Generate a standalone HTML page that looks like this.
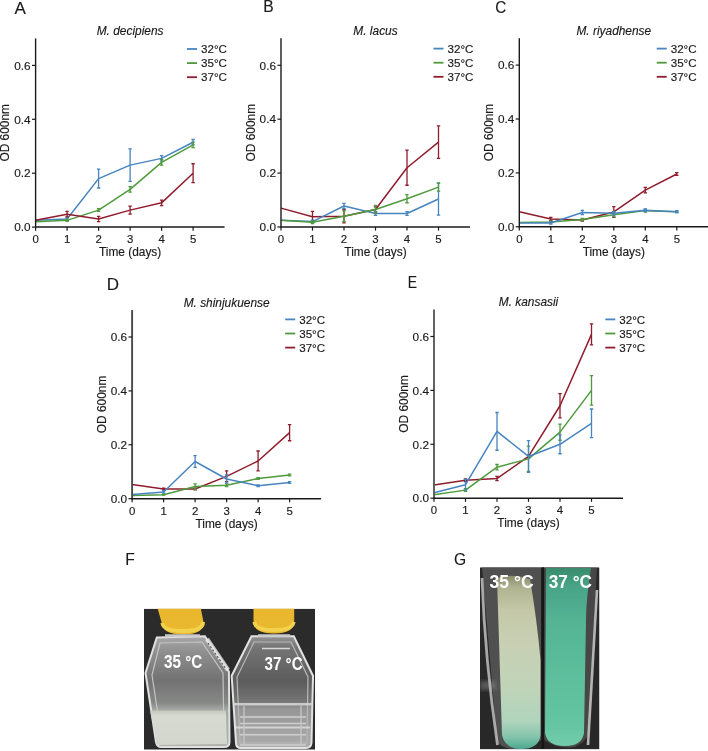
<!DOCTYPE html>
<html><head><meta charset="utf-8"><style>
html,body{margin:0;padding:0;background:#fff;}
body{width:708px;height:751px;position:relative;overflow:hidden;}
svg{position:absolute;left:0;top:0;will-change:transform;font-family:"Liberation Sans",sans-serif;font-size:11.4px;fill:#1a1a1a;}
.ct text{stroke:#1a1a1a;stroke-width:0.15px;}
</style></head><body>
<svg width="708" height="751" viewBox="0 0 708 751">
<g class="ct"><path d="M35.60,220.36 L67.10,219.01 L98.60,178.59 L130.10,165.12 L161.60,158.38 L193.10,142.21" fill="none" stroke="#4785c0" stroke-width="1.5" stroke-linejoin="round"/>
<path d="M67.10,217.67V220.36M65.40,217.67h3.4M65.40,220.36h3.4" stroke="#4785c0" stroke-width="1.3" fill="none"/>
<path d="M98.60,169.16V188.02M96.90,169.16h3.4M96.90,188.02h3.4" stroke="#4785c0" stroke-width="1.3" fill="none"/>
<path d="M130.10,148.94V181.28M128.40,148.94h3.4M128.40,181.28h3.4" stroke="#4785c0" stroke-width="1.3" fill="none"/>
<path d="M161.60,155.68V161.07M159.90,155.68h3.4M159.90,161.07h3.4" stroke="#4785c0" stroke-width="1.3" fill="none"/>
<path d="M193.10,139.51V144.90M191.40,139.51h3.4M191.40,144.90h3.4" stroke="#4785c0" stroke-width="1.3" fill="none"/>
<path d="M35.60,221.71 L67.10,220.36 L98.60,210.12 L130.10,189.37 L161.60,162.42 L193.10,144.90" fill="none" stroke="#4e9a3c" stroke-width="1.5" stroke-linejoin="round"/>
<path d="M67.10,219.28V221.44M65.40,219.28h3.4M65.40,221.44h3.4" stroke="#4e9a3c" stroke-width="1.3" fill="none"/>
<path d="M98.60,208.77V211.47M96.90,208.77h3.4M96.90,211.47h3.4" stroke="#4e9a3c" stroke-width="1.3" fill="none"/>
<path d="M130.10,186.67V192.06M128.40,186.67h3.4M128.40,192.06h3.4" stroke="#4e9a3c" stroke-width="1.3" fill="none"/>
<path d="M161.60,159.72V165.12M159.90,159.72h3.4M159.90,165.12h3.4" stroke="#4e9a3c" stroke-width="1.3" fill="none"/>
<path d="M193.10,142.21V147.60M191.40,142.21h3.4M191.40,147.60h3.4" stroke="#4e9a3c" stroke-width="1.3" fill="none"/>
<path d="M35.60,220.36 L67.10,214.16 L98.60,219.01 L130.10,210.12 L161.60,202.84 L193.10,173.20" fill="none" stroke="#8f1d2c" stroke-width="1.5" stroke-linejoin="round"/>
<path d="M67.10,211.47V216.86M65.40,211.47h3.4M65.40,216.86h3.4" stroke="#8f1d2c" stroke-width="1.3" fill="none"/>
<path d="M98.60,216.32V221.71M96.90,216.32h3.4M96.90,221.71h3.4" stroke="#8f1d2c" stroke-width="1.3" fill="none"/>
<path d="M130.10,206.08V214.16M128.40,206.08h3.4M128.40,214.16h3.4" stroke="#8f1d2c" stroke-width="1.3" fill="none"/>
<path d="M161.60,200.15V205.54M159.90,200.15h3.4M159.90,205.54h3.4" stroke="#8f1d2c" stroke-width="1.3" fill="none"/>
<path d="M193.10,163.77V182.63M191.40,163.77h3.4M191.40,182.63h3.4" stroke="#8f1d2c" stroke-width="1.3" fill="none"/>
<path d="M35.60,38.45V227.10" fill="none" stroke="#1a1a1a" stroke-width="1.4"/>
<path d="M34.90,227.10H224.60" fill="none" stroke="#1a1a1a" stroke-width="1.5"/>
<path d="M32.00,227.10H35.60" stroke="#1a1a1a" stroke-width="1.2"/>
<text x="30.60" y="231.30" text-anchor="end" font-size="11.8">0.0</text>
<path d="M32.00,173.20H35.60" stroke="#1a1a1a" stroke-width="1.2"/>
<text x="30.60" y="177.40" text-anchor="end" font-size="11.8">0.2</text>
<path d="M32.00,119.30H35.60" stroke="#1a1a1a" stroke-width="1.2"/>
<text x="30.60" y="123.50" text-anchor="end" font-size="11.8">0.4</text>
<path d="M32.00,65.40H35.60" stroke="#1a1a1a" stroke-width="1.2"/>
<text x="30.60" y="69.60" text-anchor="end" font-size="11.8">0.6</text>
<path d="M35.60,227.10V230.70" stroke="#1a1a1a" stroke-width="1.2"/>
<text x="35.60" y="243.30" text-anchor="middle">0</text>
<path d="M67.10,227.10V230.70" stroke="#1a1a1a" stroke-width="1.2"/>
<text x="67.10" y="243.30" text-anchor="middle">1</text>
<path d="M98.60,227.10V230.70" stroke="#1a1a1a" stroke-width="1.2"/>
<text x="98.60" y="243.30" text-anchor="middle">2</text>
<path d="M130.10,227.10V230.70" stroke="#1a1a1a" stroke-width="1.2"/>
<text x="130.10" y="243.30" text-anchor="middle">3</text>
<path d="M161.60,227.10V230.70" stroke="#1a1a1a" stroke-width="1.2"/>
<text x="161.60" y="243.30" text-anchor="middle">4</text>
<path d="M193.10,227.10V230.70" stroke="#1a1a1a" stroke-width="1.2"/>
<text x="193.10" y="243.30" text-anchor="middle">5</text>
<text x="130.10" y="256.10" text-anchor="middle" font-size="11.9">Time (days)</text>
<text transform="translate(9.10,132.78) rotate(-90)" text-anchor="middle" font-size="11.9">OD 600nm</text>
<text x="130.10" y="34.90" text-anchor="middle" font-style="italic" font-size="11.9">M. decipiens</text>
<path d="M187.00,49.00h10" stroke="#4785c0" stroke-width="1.8"/>
<text x="201.00" y="53.10" font-size="11.6">32°C</text>
<path d="M187.00,63.10h10" stroke="#4e9a3c" stroke-width="1.8"/>
<text x="201.00" y="67.20" font-size="11.6">35°C</text>
<path d="M187.00,77.20h10" stroke="#8f1d2c" stroke-width="1.8"/>
<text x="201.00" y="81.30" font-size="11.6">37°C</text><path d="M281.00,208.13 L312.50,216.76 L344.00,216.22 L375.50,209.48 L407.00,167.71 L438.50,142.11" fill="none" stroke="#8f1d2c" stroke-width="1.5" stroke-linejoin="round"/>
<path d="M312.50,211.37V222.15M310.80,211.37h3.4M310.80,222.15h3.4" stroke="#8f1d2c" stroke-width="1.3" fill="none"/>
<path d="M344.00,209.48V222.96M342.30,209.48h3.4M342.30,222.96h3.4" stroke="#8f1d2c" stroke-width="1.3" fill="none"/>
<path d="M375.50,206.79V212.18M373.80,206.79h3.4M373.80,212.18h3.4" stroke="#8f1d2c" stroke-width="1.3" fill="none"/>
<path d="M407.00,150.19V185.23M405.30,150.19h3.4M405.30,185.23h3.4" stroke="#8f1d2c" stroke-width="1.3" fill="none"/>
<path d="M438.50,125.94V158.28M436.80,125.94h3.4M436.80,158.28h3.4" stroke="#8f1d2c" stroke-width="1.3" fill="none"/>
<path d="M281.00,220.26 L312.50,221.61 L344.00,205.98 L375.50,213.53 L407.00,213.53 L438.50,198.97" fill="none" stroke="#4785c0" stroke-width="1.5" stroke-linejoin="round"/>
<path d="M312.50,220.26V222.96M310.80,220.26h3.4M310.80,222.96h3.4" stroke="#4785c0" stroke-width="1.3" fill="none"/>
<path d="M344.00,203.28V208.67M342.30,203.28h3.4M342.30,208.67h3.4" stroke="#4785c0" stroke-width="1.3" fill="none"/>
<path d="M375.50,211.64V215.41M373.80,211.64h3.4M373.80,215.41h3.4" stroke="#4785c0" stroke-width="1.3" fill="none"/>
<path d="M407.00,211.64V215.41M405.30,211.64h3.4M405.30,215.41h3.4" stroke="#4785c0" stroke-width="1.3" fill="none"/>
<path d="M438.50,182.80V215.14M436.80,182.80h3.4M436.80,215.14h3.4" stroke="#4785c0" stroke-width="1.3" fill="none"/>
<path d="M281.00,220.26 L312.50,222.15 L344.00,216.22 L375.50,209.48 L407.00,198.70 L438.50,187.11" fill="none" stroke="#4e9a3c" stroke-width="1.5" stroke-linejoin="round"/>
<path d="M312.50,220.80V223.50M310.80,220.80h3.4M310.80,223.50h3.4" stroke="#4e9a3c" stroke-width="1.3" fill="none"/>
<path d="M344.00,210.83V221.61M342.30,210.83h3.4M342.30,221.61h3.4" stroke="#4e9a3c" stroke-width="1.3" fill="none"/>
<path d="M375.50,205.44V213.53M373.80,205.44h3.4M373.80,213.53h3.4" stroke="#4e9a3c" stroke-width="1.3" fill="none"/>
<path d="M407.00,194.66V202.75M405.30,194.66h3.4M405.30,202.75h3.4" stroke="#4e9a3c" stroke-width="1.3" fill="none"/>
<path d="M438.50,183.07V191.16M436.80,183.07h3.4M436.80,191.16h3.4" stroke="#4e9a3c" stroke-width="1.3" fill="none"/>
<path d="M281.00,38.35V227.00" fill="none" stroke="#1a1a1a" stroke-width="1.4"/>
<path d="M280.30,227.00H470.00" fill="none" stroke="#1a1a1a" stroke-width="1.5"/>
<path d="M277.40,227.00H281.00" stroke="#1a1a1a" stroke-width="1.2"/>
<text x="276.00" y="231.20" text-anchor="end" font-size="11.8">0.0</text>
<path d="M277.40,173.10H281.00" stroke="#1a1a1a" stroke-width="1.2"/>
<text x="276.00" y="177.30" text-anchor="end" font-size="11.8">0.2</text>
<path d="M277.40,119.20H281.00" stroke="#1a1a1a" stroke-width="1.2"/>
<text x="276.00" y="123.40" text-anchor="end" font-size="11.8">0.4</text>
<path d="M277.40,65.30H281.00" stroke="#1a1a1a" stroke-width="1.2"/>
<text x="276.00" y="69.50" text-anchor="end" font-size="11.8">0.6</text>
<path d="M281.00,227.00V230.60" stroke="#1a1a1a" stroke-width="1.2"/>
<text x="281.00" y="243.20" text-anchor="middle">0</text>
<path d="M312.50,227.00V230.60" stroke="#1a1a1a" stroke-width="1.2"/>
<text x="312.50" y="243.20" text-anchor="middle">1</text>
<path d="M344.00,227.00V230.60" stroke="#1a1a1a" stroke-width="1.2"/>
<text x="344.00" y="243.20" text-anchor="middle">2</text>
<path d="M375.50,227.00V230.60" stroke="#1a1a1a" stroke-width="1.2"/>
<text x="375.50" y="243.20" text-anchor="middle">3</text>
<path d="M407.00,227.00V230.60" stroke="#1a1a1a" stroke-width="1.2"/>
<text x="407.00" y="243.20" text-anchor="middle">4</text>
<path d="M438.50,227.00V230.60" stroke="#1a1a1a" stroke-width="1.2"/>
<text x="438.50" y="243.20" text-anchor="middle">5</text>
<text x="375.50" y="256.00" text-anchor="middle" font-size="11.9">Time (days)</text>
<text transform="translate(254.50,132.68) rotate(-90)" text-anchor="middle" font-size="11.9">OD 600nm</text>
<text x="375.50" y="34.80" text-anchor="middle" font-style="italic" font-size="11.9">M. lacus</text>
<path d="M433.50,48.60h10" stroke="#4785c0" stroke-width="1.8"/>
<text x="447.50" y="52.70" font-size="11.6">32°C</text>
<path d="M433.50,62.70h10" stroke="#4e9a3c" stroke-width="1.8"/>
<text x="447.50" y="66.80" font-size="11.6">35°C</text>
<path d="M433.50,76.80h10" stroke="#8f1d2c" stroke-width="1.8"/>
<text x="447.50" y="80.90" font-size="11.6">37°C</text><path d="M519.30,211.71 L550.80,218.98 L582.30,220.06 L613.80,211.98 L645.30,190.15 L676.80,173.98" fill="none" stroke="#8f1d2c" stroke-width="1.5" stroke-linejoin="round"/>
<path d="M550.80,217.37V220.60M549.10,217.37h3.4M549.10,220.60h3.4" stroke="#8f1d2c" stroke-width="1.3" fill="none"/>
<path d="M582.30,218.98V221.14M580.60,218.98h3.4M580.60,221.14h3.4" stroke="#8f1d2c" stroke-width="1.3" fill="none"/>
<path d="M613.80,206.59V217.37M612.10,206.59h3.4M612.10,217.37h3.4" stroke="#8f1d2c" stroke-width="1.3" fill="none"/>
<path d="M645.30,187.45V192.84M643.60,187.45h3.4M643.60,192.84h3.4" stroke="#8f1d2c" stroke-width="1.3" fill="none"/>
<path d="M676.80,172.63V175.33M675.10,172.63h3.4M675.10,175.33h3.4" stroke="#8f1d2c" stroke-width="1.3" fill="none"/>
<path d="M519.30,222.49 L550.80,221.95 L582.30,219.52 L613.80,214.67 L645.30,210.63 L676.80,211.71" fill="none" stroke="#4e9a3c" stroke-width="1.5" stroke-linejoin="round"/>
<path d="M550.80,221.14V222.76M549.10,221.14h3.4M549.10,222.76h3.4" stroke="#4e9a3c" stroke-width="1.3" fill="none"/>
<path d="M582.30,218.45V220.60M580.60,218.45h3.4M580.60,220.60h3.4" stroke="#4e9a3c" stroke-width="1.3" fill="none"/>
<path d="M613.80,212.52V216.83M612.10,212.52h3.4M612.10,216.83h3.4" stroke="#4e9a3c" stroke-width="1.3" fill="none"/>
<path d="M645.30,209.28V211.98M643.60,209.28h3.4M643.60,211.98h3.4" stroke="#4e9a3c" stroke-width="1.3" fill="none"/>
<path d="M676.80,210.90V212.52M675.10,210.90h3.4M675.10,212.52h3.4" stroke="#4e9a3c" stroke-width="1.3" fill="none"/>
<path d="M519.30,223.03 L550.80,223.03 L582.30,212.52 L613.80,213.33 L645.30,210.36 L676.80,211.71" fill="none" stroke="#4785c0" stroke-width="1.5" stroke-linejoin="round"/>
<path d="M550.80,221.95V224.11M549.10,221.95h3.4M549.10,224.11h3.4" stroke="#4785c0" stroke-width="1.3" fill="none"/>
<path d="M582.30,210.36V214.67M580.60,210.36h3.4M580.60,214.67h3.4" stroke="#4785c0" stroke-width="1.3" fill="none"/>
<path d="M613.80,211.71V214.94M612.10,211.71h3.4M612.10,214.94h3.4" stroke="#4785c0" stroke-width="1.3" fill="none"/>
<path d="M645.30,209.01V211.71M643.60,209.01h3.4M643.60,211.71h3.4" stroke="#4785c0" stroke-width="1.3" fill="none"/>
<path d="M676.80,210.90V212.52M675.10,210.90h3.4M675.10,212.52h3.4" stroke="#4785c0" stroke-width="1.3" fill="none"/>
<path d="M519.30,38.15V226.80" fill="none" stroke="#1a1a1a" stroke-width="1.4"/>
<path d="M518.60,226.80H708.30" fill="none" stroke="#1a1a1a" stroke-width="1.5"/>
<path d="M515.70,226.80H519.30" stroke="#1a1a1a" stroke-width="1.2"/>
<text x="514.30" y="231.00" text-anchor="end" font-size="11.8">0.0</text>
<path d="M515.70,172.90H519.30" stroke="#1a1a1a" stroke-width="1.2"/>
<text x="514.30" y="177.10" text-anchor="end" font-size="11.8">0.2</text>
<path d="M515.70,119.00H519.30" stroke="#1a1a1a" stroke-width="1.2"/>
<text x="514.30" y="123.20" text-anchor="end" font-size="11.8">0.4</text>
<path d="M515.70,65.10H519.30" stroke="#1a1a1a" stroke-width="1.2"/>
<text x="514.30" y="69.30" text-anchor="end" font-size="11.8">0.6</text>
<path d="M519.30,226.80V230.40" stroke="#1a1a1a" stroke-width="1.2"/>
<text x="519.30" y="243.00" text-anchor="middle">0</text>
<path d="M550.80,226.80V230.40" stroke="#1a1a1a" stroke-width="1.2"/>
<text x="550.80" y="243.00" text-anchor="middle">1</text>
<path d="M582.30,226.80V230.40" stroke="#1a1a1a" stroke-width="1.2"/>
<text x="582.30" y="243.00" text-anchor="middle">2</text>
<path d="M613.80,226.80V230.40" stroke="#1a1a1a" stroke-width="1.2"/>
<text x="613.80" y="243.00" text-anchor="middle">3</text>
<path d="M645.30,226.80V230.40" stroke="#1a1a1a" stroke-width="1.2"/>
<text x="645.30" y="243.00" text-anchor="middle">4</text>
<path d="M676.80,226.80V230.40" stroke="#1a1a1a" stroke-width="1.2"/>
<text x="676.80" y="243.00" text-anchor="middle">5</text>
<text x="613.80" y="255.80" text-anchor="middle" font-size="11.9">Time (days)</text>
<text transform="translate(492.80,132.48) rotate(-90)" text-anchor="middle" font-size="11.9">OD 600nm</text>
<text x="613.80" y="34.60" text-anchor="middle" font-style="italic" font-size="11.9">M. riyadhense</text>
<path d="M656.70,48.60h10" stroke="#4785c0" stroke-width="1.8"/>
<text x="670.70" y="52.70" font-size="11.6">32°C</text>
<path d="M656.70,62.70h10" stroke="#4e9a3c" stroke-width="1.8"/>
<text x="670.70" y="66.80" font-size="11.6">35°C</text>
<path d="M656.70,76.80h10" stroke="#8f1d2c" stroke-width="1.8"/>
<text x="670.70" y="80.90" font-size="11.6">37°C</text><path d="M132.10,484.42 L163.60,489.00 L195.10,489.00 L226.60,476.33 L258.10,460.97 L289.60,432.67" fill="none" stroke="#8f1d2c" stroke-width="1.5" stroke-linejoin="round"/>
<path d="M163.60,488.19V489.81M161.90,488.19h3.4M161.90,489.81h3.4" stroke="#8f1d2c" stroke-width="1.3" fill="none"/>
<path d="M195.10,488.19V489.81M193.40,488.19h3.4M193.40,489.81h3.4" stroke="#8f1d2c" stroke-width="1.3" fill="none"/>
<path d="M226.60,470.94V481.72M224.90,470.94h3.4M224.90,481.72h3.4" stroke="#8f1d2c" stroke-width="1.3" fill="none"/>
<path d="M258.10,451.00V470.94M256.40,451.00h3.4M256.40,470.94h3.4" stroke="#8f1d2c" stroke-width="1.3" fill="none"/>
<path d="M289.60,424.59V440.76M287.90,424.59h3.4M287.90,440.76h3.4" stroke="#8f1d2c" stroke-width="1.3" fill="none"/>
<path d="M132.10,495.47 L163.60,494.66 L195.10,486.57 L226.60,485.22 L258.10,478.49 L289.60,474.98" fill="none" stroke="#4e9a3c" stroke-width="1.5" stroke-linejoin="round"/>
<path d="M163.60,494.12V495.20M161.90,494.12h3.4M161.90,495.20h3.4" stroke="#4e9a3c" stroke-width="1.3" fill="none"/>
<path d="M195.10,483.88V489.27M193.40,483.88h3.4M193.40,489.27h3.4" stroke="#4e9a3c" stroke-width="1.3" fill="none"/>
<path d="M226.60,483.88V486.57M224.90,483.88h3.4M224.90,486.57h3.4" stroke="#4e9a3c" stroke-width="1.3" fill="none"/>
<path d="M258.10,477.68V479.30M256.40,477.68h3.4M256.40,479.30h3.4" stroke="#4e9a3c" stroke-width="1.3" fill="none"/>
<path d="M289.60,474.18V475.79M287.90,474.18h3.4M287.90,475.79h3.4" stroke="#4e9a3c" stroke-width="1.3" fill="none"/>
<path d="M132.10,494.39 L163.60,491.96 L195.10,461.51 L226.60,479.03 L258.10,485.76 L289.60,482.53" fill="none" stroke="#4785c0" stroke-width="1.5" stroke-linejoin="round"/>
<path d="M163.60,490.88V493.04M161.90,490.88h3.4M161.90,493.04h3.4" stroke="#4785c0" stroke-width="1.3" fill="none"/>
<path d="M195.10,455.58V467.44M193.40,455.58h3.4M193.40,467.44h3.4" stroke="#4785c0" stroke-width="1.3" fill="none"/>
<path d="M226.60,474.98V483.07M224.90,474.98h3.4M224.90,483.07h3.4" stroke="#4785c0" stroke-width="1.3" fill="none"/>
<path d="M258.10,484.96V486.57M256.40,484.96h3.4M256.40,486.57h3.4" stroke="#4785c0" stroke-width="1.3" fill="none"/>
<path d="M289.60,481.72V483.34M287.90,481.72h3.4M287.90,483.34h3.4" stroke="#4785c0" stroke-width="1.3" fill="none"/>
<path d="M132.10,310.05V498.70" fill="none" stroke="#4a4a4a" stroke-width="1.9"/>
<path d="M131.40,498.70H321.10" fill="none" stroke="#1a1a1a" stroke-width="1.5"/>
<path d="M128.50,498.70H132.10" stroke="#1a1a1a" stroke-width="1.2"/>
<text x="127.10" y="502.90" text-anchor="end" font-size="11.8">0.0</text>
<path d="M128.50,444.80H132.10" stroke="#1a1a1a" stroke-width="1.2"/>
<text x="127.10" y="449.00" text-anchor="end" font-size="11.8">0.2</text>
<path d="M128.50,390.90H132.10" stroke="#1a1a1a" stroke-width="1.2"/>
<text x="127.10" y="395.10" text-anchor="end" font-size="11.8">0.4</text>
<path d="M128.50,337.00H132.10" stroke="#1a1a1a" stroke-width="1.2"/>
<text x="127.10" y="341.20" text-anchor="end" font-size="11.8">0.6</text>
<path d="M132.10,498.70V502.30" stroke="#1a1a1a" stroke-width="1.2"/>
<text x="132.10" y="514.90" text-anchor="middle">0</text>
<path d="M163.60,498.70V502.30" stroke="#1a1a1a" stroke-width="1.2"/>
<text x="163.60" y="514.90" text-anchor="middle">1</text>
<path d="M195.10,498.70V502.30" stroke="#1a1a1a" stroke-width="1.2"/>
<text x="195.10" y="514.90" text-anchor="middle">2</text>
<path d="M226.60,498.70V502.30" stroke="#1a1a1a" stroke-width="1.2"/>
<text x="226.60" y="514.90" text-anchor="middle">3</text>
<path d="M258.10,498.70V502.30" stroke="#1a1a1a" stroke-width="1.2"/>
<text x="258.10" y="514.90" text-anchor="middle">4</text>
<path d="M289.60,498.70V502.30" stroke="#1a1a1a" stroke-width="1.2"/>
<text x="289.60" y="514.90" text-anchor="middle">5</text>
<text x="226.60" y="527.70" text-anchor="middle" font-size="11.9">Time (days)</text>
<text transform="translate(105.60,404.38) rotate(-90)" text-anchor="middle" font-size="11.9">OD 600nm</text>
<text x="226.60" y="306.50" text-anchor="middle" font-style="italic" font-size="11.9">M. shinjukuense</text>
<path d="M285.20,319.40h10" stroke="#4785c0" stroke-width="1.8"/>
<text x="299.20" y="323.50" font-size="11.6">32°C</text>
<path d="M285.20,333.50h10" stroke="#4e9a3c" stroke-width="1.8"/>
<text x="299.20" y="337.60" font-size="11.6">35°C</text>
<path d="M285.20,347.60h10" stroke="#8f1d2c" stroke-width="1.8"/>
<text x="299.20" y="351.70" font-size="11.6">37°C</text><path d="M434.00,484.99 L465.50,480.14 L497.00,478.53 L528.50,456.43 L560.00,405.76 L591.50,334.34" fill="none" stroke="#8f1d2c" stroke-width="1.5" stroke-linejoin="round"/>
<path d="M465.50,478.80V481.49M463.80,478.80h3.4M463.80,481.49h3.4" stroke="#8f1d2c" stroke-width="1.3" fill="none"/>
<path d="M497.00,476.37V480.68M495.30,476.37h3.4M495.30,480.68h3.4" stroke="#8f1d2c" stroke-width="1.3" fill="none"/>
<path d="M528.50,455.08V457.77M526.80,455.08h3.4M526.80,457.77h3.4" stroke="#8f1d2c" stroke-width="1.3" fill="none"/>
<path d="M560.00,393.63V417.89M558.30,393.63h3.4M558.30,417.89h3.4" stroke="#8f1d2c" stroke-width="1.3" fill="none"/>
<path d="M591.50,323.83V344.85M589.80,323.83h3.4M589.80,344.85h3.4" stroke="#8f1d2c" stroke-width="1.3" fill="none"/>
<path d="M434.00,494.70 L465.50,490.12 L497.00,467.21 L528.50,458.85 L560.00,432.17 L591.50,390.40" fill="none" stroke="#4e9a3c" stroke-width="1.5" stroke-linejoin="round"/>
<path d="M465.50,488.77V491.46M463.80,488.77h3.4M463.80,491.46h3.4" stroke="#4e9a3c" stroke-width="1.3" fill="none"/>
<path d="M497.00,464.51V469.90M495.30,464.51h3.4M495.30,469.90h3.4" stroke="#4e9a3c" stroke-width="1.3" fill="none"/>
<path d="M528.50,446.19V471.52M526.80,446.19h3.4M526.80,471.52h3.4" stroke="#4e9a3c" stroke-width="1.3" fill="none"/>
<path d="M560.00,424.09V440.26M558.30,424.09h3.4M558.30,440.26h3.4" stroke="#4e9a3c" stroke-width="1.3" fill="none"/>
<path d="M591.50,375.58V405.22M589.80,375.58h3.4M589.80,405.22h3.4" stroke="#4e9a3c" stroke-width="1.3" fill="none"/>
<path d="M434.00,492.81 L465.50,484.72 L497.00,431.36 L528.50,456.43 L560.00,444.30 L591.50,423.28" fill="none" stroke="#4785c0" stroke-width="1.5" stroke-linejoin="round"/>
<path d="M465.50,479.33V490.12M463.80,479.33h3.4M463.80,490.12h3.4" stroke="#4785c0" stroke-width="1.3" fill="none"/>
<path d="M497.00,412.50V450.23M495.30,412.50h3.4M495.30,450.23h3.4" stroke="#4785c0" stroke-width="1.3" fill="none"/>
<path d="M528.50,440.53V472.33M526.80,440.53h3.4M526.80,472.33h3.4" stroke="#4785c0" stroke-width="1.3" fill="none"/>
<path d="M560.00,434.87V453.73M558.30,434.87h3.4M558.30,453.73h3.4" stroke="#4785c0" stroke-width="1.3" fill="none"/>
<path d="M591.50,409.00V437.56M589.80,409.00h3.4M589.80,437.56h3.4" stroke="#4785c0" stroke-width="1.3" fill="none"/>
<path d="M434.00,309.55V498.20" fill="none" stroke="#5a5a5a" stroke-width="1.9"/>
<path d="M433.30,498.20H623.00" fill="none" stroke="#1a1a1a" stroke-width="1.5"/>
<path d="M430.40,498.20H434.00" stroke="#1a1a1a" stroke-width="1.2"/>
<text x="429.00" y="502.40" text-anchor="end" font-size="11.8">0.0</text>
<path d="M430.40,444.30H434.00" stroke="#1a1a1a" stroke-width="1.2"/>
<text x="429.00" y="448.50" text-anchor="end" font-size="11.8">0.2</text>
<path d="M430.40,390.40H434.00" stroke="#1a1a1a" stroke-width="1.2"/>
<text x="429.00" y="394.60" text-anchor="end" font-size="11.8">0.4</text>
<path d="M430.40,336.50H434.00" stroke="#1a1a1a" stroke-width="1.2"/>
<text x="429.00" y="340.70" text-anchor="end" font-size="11.8">0.6</text>
<path d="M434.00,498.20V501.80" stroke="#1a1a1a" stroke-width="1.2"/>
<text x="434.00" y="514.40" text-anchor="middle">0</text>
<path d="M465.50,498.20V501.80" stroke="#1a1a1a" stroke-width="1.2"/>
<text x="465.50" y="514.40" text-anchor="middle">1</text>
<path d="M497.00,498.20V501.80" stroke="#1a1a1a" stroke-width="1.2"/>
<text x="497.00" y="514.40" text-anchor="middle">2</text>
<path d="M528.50,498.20V501.80" stroke="#1a1a1a" stroke-width="1.2"/>
<text x="528.50" y="514.40" text-anchor="middle">3</text>
<path d="M560.00,498.20V501.80" stroke="#1a1a1a" stroke-width="1.2"/>
<text x="560.00" y="514.40" text-anchor="middle">4</text>
<path d="M591.50,498.20V501.80" stroke="#1a1a1a" stroke-width="1.2"/>
<text x="591.50" y="514.40" text-anchor="middle">5</text>
<text x="528.50" y="527.20" text-anchor="middle" font-size="11.9">Time (days)</text>
<text transform="translate(407.50,403.88) rotate(-90)" text-anchor="middle" font-size="11.9">OD 600nm</text>
<text x="528.50" y="306.00" text-anchor="middle" font-style="italic" font-size="11.9">M. kansasii</text>
<path d="M605.30,319.40h10" stroke="#4785c0" stroke-width="1.8"/>
<text x="619.30" y="323.50" font-size="11.6">32°C</text>
<path d="M605.30,333.50h10" stroke="#4e9a3c" stroke-width="1.8"/>
<text x="619.30" y="337.60" font-size="11.6">35°C</text>
<path d="M605.30,347.60h10" stroke="#8f1d2c" stroke-width="1.8"/>
<text x="619.30" y="351.70" font-size="11.6">37°C</text>
<text transform="translate(14.6,13.8) scale(1.0,1)" font-size="17">A</text>
<text transform="translate(263.2,12.2) scale(0.92,1)" font-size="17">B</text>
<text transform="translate(495.2,12.9) scale(0.9,1)" font-size="17">C</text>
<text transform="translate(106.8,289.7) scale(1.0,1)" font-size="17">D</text>
<text transform="translate(407.7,288.2) scale(0.82,1)" font-size="17">E</text>
<text transform="translate(125.3,564.7) scale(0.92,1)" font-size="17">F</text>
<text transform="translate(453.9,564.6) scale(0.92,1)" font-size="17">G</text></g>

<defs>
 <filter id="bl1" x="-5%" y="-5%" width="110%" height="110%"><feGaussianBlur stdDeviation="0.7"/></filter>
 <filter id="bl2" x="-20%" y="-20%" width="140%" height="140%"><feGaussianBlur stdDeviation="2"/></filter>
 <clipPath id="cpF"><rect x="144" y="608.7" width="171" height="140.9"/></clipPath>
 <clipPath id="cpG"><rect x="480" y="567.3" width="119.5" height="182.2"/></clipPath>
 <linearGradient id="capg" x1="0" y1="0" x2="0" y2="1">
  <stop offset="0" stop-color="#ecba2e"/><stop offset="0.6" stop-color="#f2c53c"/><stop offset="0.8" stop-color="#f6d25e"/><stop offset="1" stop-color="#eec656"/>
 </linearGradient>
 <linearGradient id="turb" x1="0" y1="0" x2="0" y2="1">
  <stop offset="0" stop-color="#c4c8bc"/><stop offset="0.15" stop-color="#d6dad0"/><stop offset="1" stop-color="#d2d6cc"/>
 </linearGradient>
 <linearGradient id="f1in" x1="0" y1="0" x2="0" y2="1">
  <stop offset="0" stop-color="#a8a8a8"/><stop offset="0.15" stop-color="#8e8e8e"/><stop offset="0.4" stop-color="#727272"/><stop offset="0.6" stop-color="#868886"/><stop offset="0.66" stop-color="#a4a6a2"/><stop offset="1" stop-color="#b0b2ac"/>
 </linearGradient>
 <linearGradient id="f2in" x1="0" y1="0" x2="0" y2="1">
  <stop offset="0" stop-color="#949494"/><stop offset="0.1" stop-color="#747474"/><stop offset="0.4" stop-color="#5c5c5c"/><stop offset="0.58" stop-color="#747474"/><stop offset="0.65" stop-color="#969696"/><stop offset="1" stop-color="#acacac"/>
 </linearGradient>
 <linearGradient id="t1in" x1="0" y1="0" x2="0" y2="1">
  <stop offset="0" stop-color="#8a8c6c"/><stop offset="0.07" stop-color="#b0b490"/><stop offset="0.2" stop-color="#c4c8a8"/><stop offset="0.4" stop-color="#c8d0b4"/><stop offset="0.65" stop-color="#c0d4b8"/><stop offset="0.84" stop-color="#b0d4bc"/><stop offset="0.93" stop-color="#84c4ac"/><stop offset="1" stop-color="#4aa890"/>
 </linearGradient>
 <linearGradient id="t2in" x1="0" y1="0" x2="0" y2="1">
  <stop offset="0" stop-color="#3a8a6c"/><stop offset="0.1" stop-color="#48a486"/><stop offset="0.3" stop-color="#54b494"/><stop offset="0.6" stop-color="#5cbe9c"/><stop offset="0.9" stop-color="#66c6a4"/><stop offset="1" stop-color="#74ccaa"/>
 </linearGradient>
</defs>
<g clip-path="url(#cpF)">
 <rect x="144" y="608.7" width="171" height="142.3" fill="#2b2b2b"/>
 <g filter="url(#bl1)">
 <path d="M156.8,637.5 L204.9,636.3 L228.9,671.6 L229.5,742 Q229.5,747 224,747 L161,747 Q157,747 156,742 L145.5,673 Z" fill="url(#f1in)" stroke="#e0e0e0" stroke-width="2"/>
 <path d="M160,643 L202,642 L223,673 L224,741 L162,741 L152,675 Z" fill="none" stroke="#c4c4c4" stroke-width="1.2"/>
 <path d="M150,710.5 L226,710.5 L227,744 L158,745 Z" fill="url(#turb)"/>
 <path d="M251.5,636.3 L293.8,636.3 L313,675.8 L311.5,743 Q311,748 306,748 L241,748 Q236,748 236,743 L231.7,675.8 Z" fill="url(#f2in)" stroke="#e2e2e2" stroke-width="2"/>
 <path d="M254,642 L291,642 L308,677 L307,743 L240,743 L237,677 Z" fill="none" stroke="#b8b8b8" stroke-width="1.2"/>
 <path d="M234,704.2 H312" stroke="#d8d8d8" stroke-width="2.4" opacity="0.85"/>
 <path d="M240,717 H306 M240,723.5 H306 M240,734.8 H306 M240,745 H306" stroke="#cfcfcf" stroke-width="1.6"/>
 <path d="M236,727.5 H310" stroke="#e0e0e0" stroke-width="2.2" opacity="0.8"/>
 <path d="M244,706 V745 M301,706 V745" stroke="#c8c8c8" stroke-width="1.6" opacity="0.8"/>
 <path d="M262,648.5 H290" stroke="#d8d8d8" stroke-width="1.5"/>
 <path d="M207,639 L228,670" stroke="#e8e8e8" stroke-width="4.5" opacity="0.8"/>
 <path d="M208,643 L226,669" stroke="#555" stroke-width="1.2" stroke-dasharray="2 2"/>
 <path d="M157.2,607 L200.5,607 L203.5,622 Q204,634.5 183,634.5 Q162,634.5 161.5,622 Z" fill="#eab82e"/>
 <path d="M162.5,623 Q163,631 183,631 Q203,631 203,622" fill="none" stroke="#f2d24e" stroke-width="4"/>
 <path d="M253.5,607 L294.2,607 L294.2,621 Q294.2,633.5 274,633.5 Q253.5,633.5 253.5,621 Z" fill="#eab82e"/>
 <path d="M254.5,622 Q255,630 274,630 Q293,630 293.5,622" fill="none" stroke="#f2d24e" stroke-width="4"/>
 <path d="M165,635.5 H200 M258,635.5 H290" stroke="#c8c8c8" stroke-width="2.5"/>
 </g>
 <text x="164" y="667.6" font-size="17.5" fill="#ffffff" font-weight="bold" textLength="38.4" lengthAdjust="spacingAndGlyphs">35 °C</text>
 <text x="264.6" y="669.6" font-size="17.5" fill="#ffffff" font-weight="bold" textLength="38" lengthAdjust="spacingAndGlyphs">37 °C</text>
</g>
<g clip-path="url(#cpG)">
 <rect x="480" y="567.3" width="119.5" height="182" fill="#282828"/>
 <g filter="url(#bl1)">
 <path d="M482,567 L541,567 L541,740 Q530,750 512,749 Q500,748 497,740 Z" fill="#5e5e5e" opacity="0.75"/>
 <path d="M597,567 L544,567 L544,740 Q560,750 575,747 Q585,742 588,735 Z" fill="#5a5a5a" opacity="0.6"/>
 <rect x="480" y="681" width="16" height="9" fill="#8a8a8a" opacity="0.5" filter="url(#bl2)"/>
 <path d="M497,578 Q512,573 530,579 Q537,620 540.5,660 L540.5,735 Q539,749 521,749 Q505,749 502,735 Z" fill="url(#t1in)"/>
 <path d="M546,568 L591,568 Q586,600 586,620 L584,733 Q582,746 565,746 Q547,746 545,733 Z" fill="url(#t2in)"/>
 <path d="M482,578 Q485,660 497.5,745" fill="none" stroke="#c8c8c8" stroke-width="2.8" opacity="0.8"/>
 <path d="M597,590 L588,745" stroke="#d8d8d8" stroke-width="2.6" opacity="0.8"/>
 <path d="M542.8,567 V749" stroke="#181818" stroke-width="2.6"/>
 </g>
 <text x="489.6" y="588.2" font-size="18.5" fill="#ffffff" font-weight="bold" textLength="44" lengthAdjust="spacingAndGlyphs">35 °C</text>
 <text x="548.8" y="588.2" font-size="18.5" fill="#ffffff" font-weight="bold" textLength="43.2" lengthAdjust="spacingAndGlyphs">37 °C</text>
</g>

</svg>
</body></html>
